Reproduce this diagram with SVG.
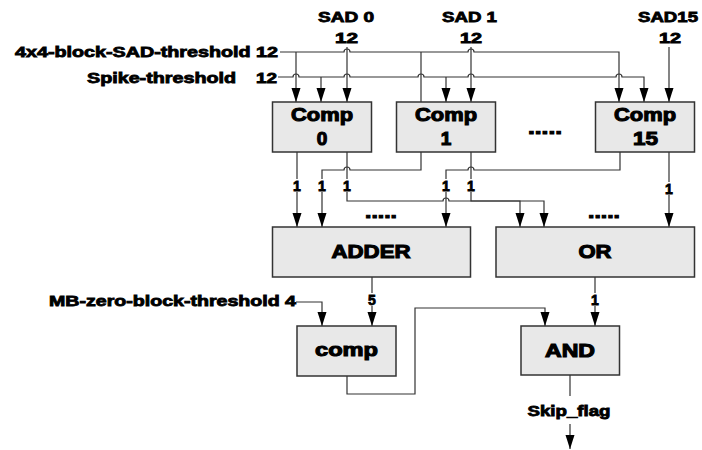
<svg xmlns="http://www.w3.org/2000/svg" width="702" height="450" viewBox="0 0 702 450">
  <defs>
    <marker id="arrow" markerUnits="userSpaceOnUse" markerWidth="15" markerHeight="11" refX="14" refY="5" orient="auto">
      <path d="M0,0.5 L14,5 L0,9.5 z" fill="#000"/>
    </marker>
    <style>
      .box { fill: #e8e8e8; stroke: #333; stroke-width: 1.5; }
      .wire { fill: none; stroke: #333; stroke-width: 1.2; }
      .arr { marker-end: url(#arrow); }
      text { font-family: "Liberation Sans", Arial, sans-serif; font-weight: bold; fill: #000; stroke: #000; stroke-width: 0.8; }
      .lbl { font-size: 14px; }
      .bt { font-size: 19px; stroke-width: 1.1; text-anchor: middle; }
      .num { font-size: 14px; text-anchor: middle; }
      .mid { text-anchor: middle; }
      .bg { fill: #fff; stroke: none; }
    </style>
  </defs>
  <rect width="702" height="450" fill="#fff"/>

  <!-- input labels -->
  <g id="inputs">
    <text class="lbl" x="15" y="57" textLength="263" lengthAdjust="spacingAndGlyphs">4x4-block-SAD-threshold 12</text>
    <text class="lbl" x="87" y="83" textLength="149" lengthAdjust="spacingAndGlyphs">Spike-threshold</text>
    <text class="lbl" x="256" y="83" textLength="21" lengthAdjust="spacingAndGlyphs">12</text>
    <text class="lbl" x="318" y="22" textLength="56" lengthAdjust="spacingAndGlyphs">SAD 0</text>
    <text class="lbl" x="335" y="43" textLength="23" lengthAdjust="spacingAndGlyphs">12</text>
    <text class="lbl" x="442" y="22" textLength="55" lengthAdjust="spacingAndGlyphs">SAD 1</text>
    <text class="lbl" x="460" y="43" textLength="22" lengthAdjust="spacingAndGlyphs">12</text>
    <text class="lbl" x="638" y="22" textLength="60" lengthAdjust="spacingAndGlyphs">SAD15</text>
    <text class="lbl" x="659" y="43" textLength="22" lengthAdjust="spacingAndGlyphs">12</text>
    <text class="lbl" x="49" y="306" textLength="247" lengthAdjust="spacingAndGlyphs">MB-zero-block-threshold 4</text>
  </g>

  <!-- connectors -->
  <g id="connectors">
    <!-- 4x4 block SAD threshold bus -->
    <path class="wire arr" d="M280,52 H344 A3,3 0 0 1 350,52 H468 A3,3 0 0 1 474,52 H619 V102"/>
    <path class="wire arr" d="M296,52 V102"/>
    <path class="wire" d="M421,52 V102"/>
    <!-- spike threshold bus -->
    <path class="wire arr" d="M278,77 H293 A3,3 0 0 1 299,77 H344 A3,3 0 0 1 350,77 H418 A3,3 0 0 1 424,77 H468 A3,3 0 0 1 474,77 H616 A3,3 0 0 1 622,77 H644 V102"/>
    <path class="wire arr" d="M321,77 V102"/>
    <path class="wire arr" d="M446,77 V102"/>
    <!-- SAD inputs -->
    <path class="wire arr" d="M347,47 V102"/>
    <path class="wire arr" d="M471,47 V102"/>
    <path class="wire arr" d="M669,47 V102"/>
    <!-- comparator outputs -->
    <path class="wire arr" d="M297,152 V227"/>
    <path class="wire arr" d="M347,152 V201 H443 A3,3 0 0 1 449,201 H520 V227"/>
    <path class="wire arr" d="M421,152 V170 H350 A3,3 0 0 0 344,170 H322 V227"/>
    <path class="wire arr" d="M471,152 V201 H544 V227"/>
    <path class="wire arr" d="M620,152 V170 H474 A3,3 0 0 0 468,170 H446 V227"/>
    <path class="wire arr" d="M669,152 V227"/>
    <!-- second stage -->
    <path class="wire arr" d="M372,277 V326"/>
    <path class="wire arr" d="M595,277 V326"/>
    <path class="wire arr" d="M296,302 H322 V326"/>
    <path class="wire arr" d="M347,376 V394 H415 V308 H545 V326"/>
    <path class="wire" d="M570,375 V396"/>
    <path class="wire arr" d="M570,424 V449"/>

    <!-- bit-width labels -->
    <rect class="bg" x="292" y="179" width="10" height="13"/>
    <text class="num" x="297" y="190.5">1</text>
    <rect class="bg" x="317" y="179" width="10" height="13"/>
    <text class="num" x="322" y="190.5">1</text>
    <rect class="bg" x="342" y="179" width="10" height="13"/>
    <text class="num" x="347" y="190.5">1</text>
    <rect class="bg" x="441" y="179" width="10" height="13"/>
    <text class="num" x="446" y="190.5">1</text>
    <rect class="bg" x="466" y="179" width="10" height="13"/>
    <text class="num" x="471" y="190.5">1</text>
    <rect class="bg" x="664" y="182" width="10" height="13"/>
    <text class="num" x="669" y="193.5">1</text>
    <rect class="bg" x="367" y="293" width="10" height="13"/>
    <text class="num" x="372" y="304.5">5</text>
    <rect class="bg" x="590" y="293" width="10" height="13"/>
    <text class="num" x="595" y="304.5">1</text>

    <!-- ellipses -->
    <text class="bt" x="545" y="134" textLength="34" lengthAdjust="spacingAndGlyphs">.....</text>
    <text class="bt" x="381" y="218" textLength="32" lengthAdjust="spacingAndGlyphs">.....</text>
    <text class="bt" x="604" y="218" textLength="32" lengthAdjust="spacingAndGlyphs">.....</text>

    <text class="lbl mid" x="569" y="416" textLength="83" lengthAdjust="spacingAndGlyphs">Skip_flag</text>
  </g>

  <!-- nodes -->
  <g id="comp0">
    <rect class="box" x="272.5" y="102" width="99" height="50"/>
    <text class="bt" x="322" y="121" textLength="62" lengthAdjust="spacingAndGlyphs">Comp</text>
    <text class="bt" x="322" y="145">0</text>
  </g>
  <g id="comp1">
    <rect class="box" x="396.5" y="102" width="99" height="50"/>
    <text class="bt" x="446" y="121" textLength="62" lengthAdjust="spacingAndGlyphs">Comp</text>
    <text class="bt" x="446" y="145">1</text>
  </g>
  <g id="comp15">
    <rect class="box" x="595.5" y="102" width="99" height="50"/>
    <text class="bt" x="645" y="121" textLength="62" lengthAdjust="spacingAndGlyphs">Comp</text>
    <text class="bt" x="645.5" y="145" textLength="25" lengthAdjust="spacingAndGlyphs">15</text>
  </g>
  <g id="adder">
    <rect class="box" x="272.5" y="227" width="198" height="50"/>
    <text class="bt" x="371" y="258" textLength="79" lengthAdjust="spacingAndGlyphs">ADDER</text>
  </g>
  <g id="or">
    <rect class="box" x="496" y="227" width="198.5" height="50"/>
    <text class="bt" x="595" y="258" textLength="33" lengthAdjust="spacingAndGlyphs">OR</text>
  </g>
  <g id="comp">
    <rect class="box" x="297" y="326" width="99" height="50"/>
    <text class="bt" x="346.5" y="356" textLength="63" lengthAdjust="spacingAndGlyphs">comp</text>
  </g>
  <g id="and">
    <rect class="box" x="521" y="326" width="98.5" height="49"/>
    <text class="bt" x="570" y="357" textLength="50" lengthAdjust="spacingAndGlyphs">AND</text>
  </g>
</svg>
